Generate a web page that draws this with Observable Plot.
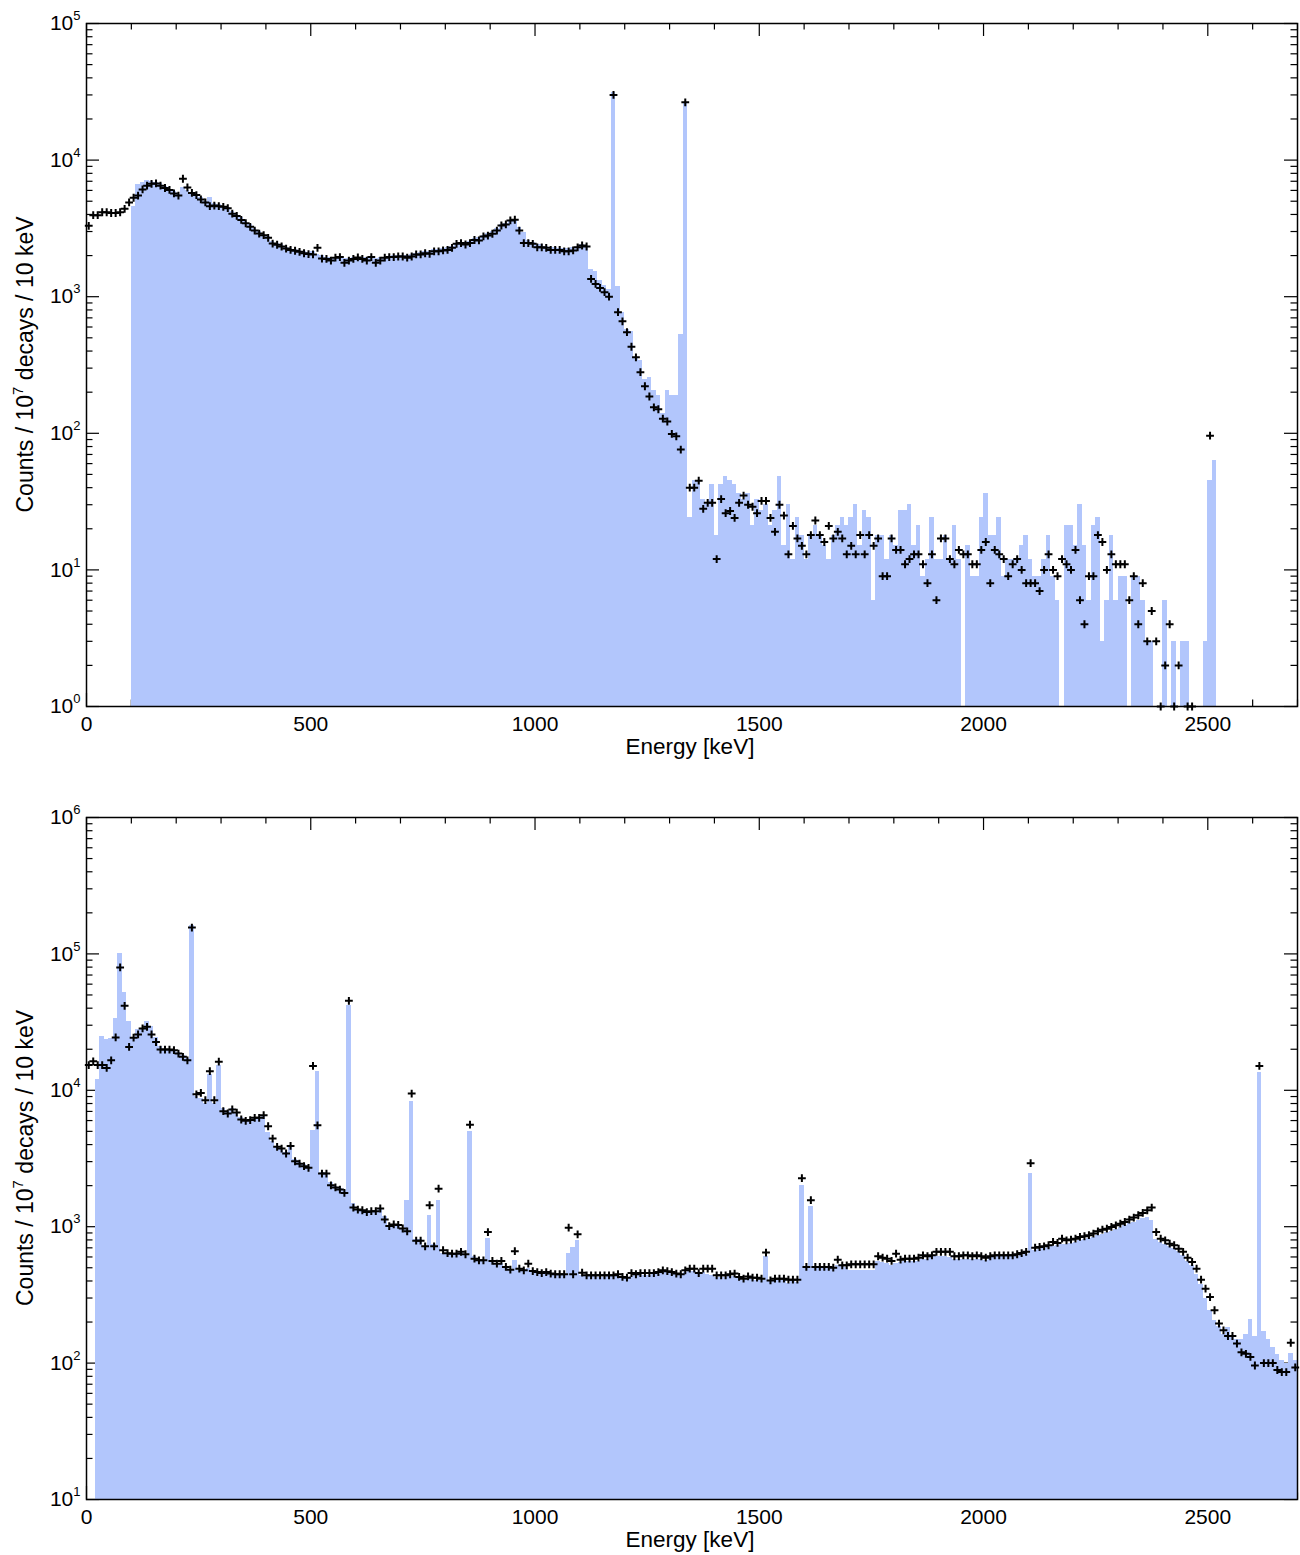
<!DOCTYPE html>
<html><head><meta charset="utf-8">
<script src="https://cdn.jsdelivr.net/npm/d3@7"></script>
<script src="https://cdn.jsdelivr.net/npm/@observablehq/plot@0.6"></script>
<style>
body{margin:0;background:#fff;}
#chart{width:1300px;}
svg{display:block;}
</style></head><body><div id="chart"></div>
<script>
// ---------------- data (10 keV bins, bin k = [10k, 10k+10) keV) ----------------
const binWidth = 10;
const xTickValues = [0, 500, 1000, 1500, 2000, 2500];
const xMinorTicks = [100,200,300,400,600,700,800,900,1100,1200,1300,1400,1600,1700,1800,1900,2100,2200,2300,2400,2600,2700];
const topYTicks = [1, 10, 100, 1000, 10000, 100000];
const botYTicks = [10, 100, 1000, 10000, 100000, 1000000];
const xLabel = "Energy [keV]";

// top panel: simulated spectrum (bars)
const topHist = [
0,0,0,0,0,0,0,0,0,0,
4600,6600,6900,7100,7000,6900,6700,6400,6100,5900,
5600,6300,6000,5800,5600,5300,5000,5300,4800,4750,
4600,4500,4200,4000,3800,3550,3350,3150,3000,2850,
2750,2550,2450,2400,2300,2250,2200,2180,2150,2100,
2150,2050,2000,1950,1950,1950,1950,1900,1900,1950,
1950,1950,1950,1950,1900,1950,1950,1980,2000,2000,
2000,2000,2050,2080,2100,2150,2150,2200,2200,2250,
2300,2350,2450,2500,2500,2550,2650,2700,2800,2900,
3000,3150,3350,3450,3600,3700,3200,2950,2560,2500,
2400,2400,2350,2300,2280,2250,2250,2250,2300,2350,
2400,2350,1580,1540,1320,1210,1120,31000,1190,770,
580,560,350,340,246,256,206,190,139,206,
190,190,529,26500,24,45,45,33,30,42,
18,42,48,45,42,36,33,36,21,33,
27,30,21,27,48,15,30,12,24,18,
12,18,21,18,15,12,18,21,24,21,
24,30,15,27,24,6,18,18,12,18,
15,27,27,30,15,21,9,12,24,12,
12,18,12,21,12,0,15,9,9,24,
36,18,18,24,9,12,12,12,15,18,
12,9,9,12,18,9,6,0,21,21,
15,30,15,6,21,24,3,6,18,6,
9,9,0,9,9,6,3,3,0,0,
6,0,3,0,3,3,0,0,0,3,
45,63,0,0,0,0,0,0,0,0,
0,0,0,0,0,0,0,0,0,0
];
// top panel: measured spectrum (crosses)
const topCounts = [
3300,3950,3950,4150,4150,4100,4100,4150,4400,4900,
5300,5500,6100,6500,6700,6750,6500,6250,6050,5700,
5500,7300,6300,5750,5550,5150,4900,4600,4650,4600,
4550,4450,4050,3900,3650,3450,3250,3050,2900,2820,
2700,2450,2400,2330,2250,2200,2170,2130,2080,2050,
2040,2280,1900,1890,1840,1930,1950,1770,1840,1890,
1940,1890,1840,1950,1770,1840,1930,1950,1950,1970,
1970,1930,1970,2040,2040,2080,2060,2150,2150,2180,
2200,2280,2440,2470,2410,2470,2600,2580,2760,2800,
2890,3050,3320,3380,3620,3660,3050,2470,2470,2440,
2300,2300,2280,2200,2200,2200,2150,2150,2180,2300,
2370,2330,1350,1240,1160,1080,1000,30000,770,660,
550,430,360,280,221,186,155,150,128,122,
99,95,76,26500,40,40,45,28,31,31,
12,33,26,27,24,31,35,30,29,26,
32,32,24,19,30,25,13,21,17,15,
13,18,23,18,16,21,17,19,17,13,
15,13,18,13,18,15,17,9,9,17,
14,14,11,12,13,13,11,8,13,6,
17,17,12,11,14,13,13,11,11,14,
16,8,14,13,12,9,11,12,10,8,
8,8,7,10,13,10,9,12,11,10,
14,6,4,9,9,18,16,10,13,11,
11,11,6,9,4,8,3,5,3,1,
2,4,1,2,0,1,1,0,0,0,
96,0,0,0,0,0,0,0,0,0,
0,0,0,0,0,0,0,0,0,0
];
// bottom panel: simulated spectrum (bars)
const botHist = [
0,0,11900,24900,23600,23800,33600,100000,51900,32100,
24300,27900,27900,32100,29200,24400,20800,19900,19900,19600,
19000,18000,17000,162000,8950,8710,8000,13100,8000,15100,
7300,7000,7300,6800,6300,6100,6100,6300,6300,6400,
4900,4200,3900,3750,3500,3800,3100,2950,2850,2750,
5100,13650,2500,2400,2100,1980,1900,1850,42100,1480,
1330,1300,1280,1290,1290,1340,1180,1000,1000,1000,
950,1550,8220,800,800,720,1210,740,1550,640,
630,630,630,650,620,5000,600,555,555,817,
550,530,540,500,480,567,480,470,490,465,
455,450,455,445,440,440,440,641,700,794,
440,430,430,430,425,425,430,430,430,420,
420,430,440,445,440,440,445,450,460,460,
455,445,440,460,470,470,455,460,445,440,
425,425,425,430,430,415,405,415,410,400,
405,607,395,400,400,400,385,395,390,2010,
490,1412,490,495,495,495,490,520,510,505,
480,480,480,480,480,480,552,545,540,520,
540,550,555,555,555,560,570,575,600,600,
600,600,595,570,570,575,575,570,575,570,
565,590,595,600,600,600,600,605,615,625,
2450,670,680,690,700,710,725,735,740,750,
770,790,800,815,835,860,880,900,925,950,
990,1020,1050,1080,1110,1140,1170,1110,800,760,
740,710,690,660,620,560,521,448,380,300,
242,205,184,163,183,158,148,148,163,208,
158,13400,170,150,130,115,105,100,118,105
];
// bottom panel: measured spectrum (crosses)
const botCounts = [
15300,16300,15300,15300,14600,16600,24400,79600,41600,20800,
24300,25700,28400,29200,25700,22600,19900,19900,19900,19700,
18600,17600,16600,156000,9350,9570,8460,13800,8460,16200,
7030,6760,7230,6870,6110,5970,6050,6280,6280,6570,
5450,4430,3850,3740,3440,3910,3020,2900,2780,2700,
15100,5540,2450,2450,2010,1940,1870,1770,45300,1380,
1335,1320,1280,1300,1300,1360,1130,1010,1040,1030,
970,925,9460,790,790,718,1436,718,1900,672,
640,634,634,654,628,5600,583,567,567,914,
561,536,561,507,484,661,492,479,536,473,
465,457,465,453,448,448,448,984,448,879,
460,440,440,440,440,440,440,440,448,428,
423,457,448,457,457,457,457,465,479,472,
465,453,448,479,492,492,457,492,492,492,
440,440,440,448,453,428,416,432,423,423,
416,646,404,416,416,416,409,409,409,2270,
507,1564,507,507,507,507,501,573,521,521,
530,530,530,530,530,530,607,593,583,561,
634,573,583,583,583,593,617,607,617,654,
654,654,654,607,607,617,617,607,617,607,
593,607,617,617,617,617,617,628,641,654,
2920,702,710,718,731,773,760,817,794,805,
817,841,851,866,890,925,951,968,996,1024,
1053,1083,1127,1166,1213,1262,1319,1380,914,817,
794,751,731,690,654,593,551,492,409,351,
305,244,195,174,158,158,139,120,117,111,
96,15100,100,100,100,89,86,86,141,93
];

// ---------------- drawing ----------------
const FONT = "'Liberation Sans', Arial, Helvetica, sans-serif";
const BAR_COLOR = "#b2c6fc";
const W = 1300, ML = 86, MR = 3;
const TICK_FS = 21, TITLE_FS = 22.5, SUP_FS = 13;

const plusSymbol = {
  draw(ctx, size) {
    const r = Math.sqrt(size / Math.PI);
    ctx.moveTo(-r, 0); ctx.lineTo(r, 0);
    ctx.moveTo(0, -r); ctx.lineTo(0, r);
  }
};

function minorLogTicks(majors) {
  const out = [];
  for (let i = 0; i < majors.length - 1; i++)
    for (const m of [2,3,4,5,6,7,8,9]) out.push(majors[i] * m);
  return out;
}

function panel({hist, counts, yTicks, height, marginTop, marginBottom, labelBaseline}) {
  const plotW = W - ML - MR, plotH = height - marginTop - marginBottom;
  const yMin = yTicks[0], yMax = yTicks[yTicks.length - 1];
  const bars = hist.map((v, i) => ({x1: i * binWidth, x2: (i + 1) * binWidth, v})).filter(d => d.v > 0);
  const pts = counts.map((v, i) => ({x: (i + 0.5) * binWidth, v})).filter(d => d.v > 0);
  const yMinor = minorLogTicks(yTicks);
  const majLen = 13, minLen = 6.5, tw = 1.2;
  const svg = Plot.plot({
    width: W, height, marginLeft: ML, marginRight: MR, marginTop, marginBottom,
    style: {fontFamily: FONT, fontSize: TICK_FS + "px", color: "black", background: "white"},
    x: {domain: [0, 2700], label: null},
    y: {type: "log", domain: [yMin, yMax], label: null},
    marks: [
      Plot.tickX(xTickValues, {x: d => d, insetTop: plotH - majLen, stroke: "black", strokeWidth: tw}),
      Plot.tickX(xTickValues, {x: d => d, insetBottom: plotH - majLen, stroke: "black", strokeWidth: tw}),
      Plot.tickX(xMinorTicks, {x: d => d, insetTop: plotH - minLen, stroke: "black", strokeWidth: tw}),
      Plot.tickX(xMinorTicks, {x: d => d, insetBottom: plotH - minLen, stroke: "black", strokeWidth: tw}),
      Plot.tickY(yTicks, {y: d => d, insetRight: plotW - majLen, stroke: "black", strokeWidth: tw}),
      Plot.tickY(yTicks, {y: d => d, insetLeft: plotW - majLen, stroke: "black", strokeWidth: tw}),
      Plot.tickY(yMinor, {y: d => d, insetRight: plotW - minLen, stroke: "black", strokeWidth: tw}),
      Plot.tickY(yMinor, {y: d => d, insetLeft: plotW - minLen, stroke: "black", strokeWidth: tw}),
      Plot.rectY(bars, {x1: "x1", x2: "x2", y1: yMin, y2: "v", fill: BAR_COLOR, inset: 0, shapeRendering: "crispEdges"}),
      Plot.dot(pts, {x: "x", y: "v", symbol: plusSymbol, r: 3.9, stroke: "black", strokeWidth: 2, fill: "none"}),
      Plot.frame({stroke: "black", strokeWidth: 1.5}),
      Plot.axisX(xTickValues, {tickSize: 0, tickPadding: 10, fontSize: TICK_FS, label: null,
        tickFormat: d => String(d)}),
      Plot.axisY(yTicks, {tickSize: 0, tickPadding: 6, fontSize: TICK_FS, label: null,
        tickFormat: d => "10^" + Math.round(Math.log10(d))})
    ]
  });
  const s = d3.select(svg);
  s.selectAll("text").each(function() {
    const m = /^10\^(\d+)$/.exec(this.textContent);
    if (m) {
      const t = d3.select(this);
      t.text("10");
      t.append("tspan").attr("dy", -10).attr("font-size", SUP_FS).text(m[1]);
    }
  });
  s.append("text").attr("x", 690).attr("y", labelBaseline)
    .attr("text-anchor", "middle").attr("font-family", FONT).attr("font-size", TITLE_FS)
    .attr("fill", "black").text(xLabel);
  const cy = marginTop + plotH / 2;
  const yl = s.append("text").attr("transform", `translate(33,${cy}) rotate(-90)`)
    .attr("text-anchor", "middle").attr("font-family", FONT).attr("font-size", 23).attr("fill", "black");
  yl.append("tspan").text("Counts / 10");
  yl.append("tspan").attr("dy", -10).attr("font-size", 15).text("7");
  yl.append("tspan").attr("dy", 10).text(" decays / 10 keV");
  return svg;
}

const chart = document.getElementById("chart");
chart.append(panel({hist: topHist, counts: topCounts, yTicks: topYTicks,
  height: 780, marginTop: 23, marginBottom: 74, labelBaseline: 754}));
chart.append(panel({hist: botHist, counts: botCounts, yTicks: botYTicks,
  height: 775, marginTop: 37, marginBottom: 56, labelBaseline: 767}));
</script>
</body></html>
